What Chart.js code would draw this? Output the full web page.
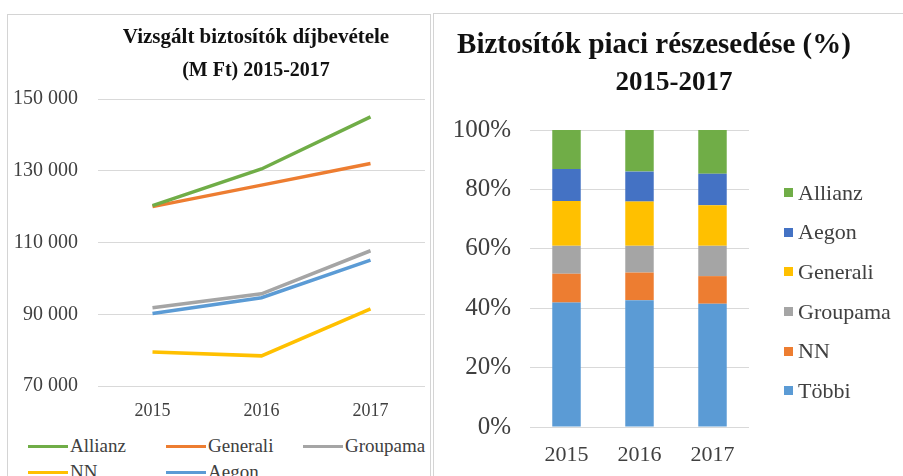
<!DOCTYPE html>
<html>
<head>
<meta charset="utf-8">
<script src="https://cdn.jsdelivr.net/npm/chart.js@4.4.1/dist/chart.umd.min.js"></script>
<style>
  body { margin: 0; background: #fff; width: 903px; height: 476px; overflow: hidden; position: relative; font-family: 'Liberation Serif', 'Times New Roman', serif; }
  .panel { position: absolute; background: #fff; border: 1px solid #d4d4d4; box-sizing: border-box; }
  #left-panel { left: 7px; top: 14px; width: 424px; height: 480px; }
  #right-panel { left: 433px; top: 13px; width: 480px; height: 480px; }
  canvas { position: absolute; left: 0; top: 0; }
  .legend-left { position: absolute; left: 20px; top: 420px; width: 410px; display: grid; grid-template-columns: 138px 137px 130px; row-gap: 4px; }
  .legend-left .item, .legend-right .item { display: flex; align-items: center; color: #404040; white-space: nowrap; }
  .legend-left .item { font-size: 19px; height: 22px; }
  .legend-left .mark { width: 40px; height: 3px; margin-right: 2px; }
  .legend-right { position: absolute; left: 350px; top: 159px; }
  .legend-right .item { font-size: 22px; height: 39.6px; }
  .legend-right .mark { width: 9px; height: 9px; margin-right: 5px; }
</style>
</head>
<body>
<div class="panel" id="left-panel">
  <canvas id="incomeChart"></canvas>
  <div class="legend-left" id="income-legend"></div>
</div>
<div class="panel" id="right-panel">
  <canvas id="shareChart"></canvas>
  <div class="legend-right" id="share-legend"></div>
</div>
<script>
// data
const years = ['2015', '2016', '2017'];

// premium income, M Ft
const allianzIncome = [120300, 130500, 145000];
const generaliIncome = [120000, 126000, 132000];
const groupamaIncome = [91800, 95700, 107700];
const nnIncome = [79500, 78400, 91500];
const aegonIncome = [90200, 94600, 105100];

// market share, %
const tobbiShare = [41.9, 42.7, 41.5];
const nnShare = [9.7, 9.3, 9.3];
const groupamaShare = [9.4, 9.0, 10.2];
const generaliShare = [15.1, 14.9, 13.7];
const aegonShare = [10.8, 10.1, 10.6];
const allianzShare = [13.1, 14.0, 14.7];

const incomeTitle = ['Vizsgált biztosítók díjbevétele', '(M Ft) 2015-2017'];
const shareTitle = ['Biztosítók piaci részesedése (%)', '2015-2017'];

const serif = "'Liberation Serif', 'Times New Roman', serif";
const tickColor = '#404040';
const gridColor = '#d9d9d9';

// title lines drawn at given centres
const panelTitle = {
  id: 'panelTitle',
  afterDraw(chart, args, opts) {
    const ctx = chart.ctx;
    ctx.save();
    ctx.fillStyle = '#111';
    ctx.textAlign = 'center';
    ctx.textBaseline = 'middle';
    opts.lines.forEach(function(line, i) {
      ctx.font = 'bold ' + opts.sizes[i] + 'px ' + serif;
      ctx.fillText(line, opts.x[i], opts.y + i * opts.lineHeight);
    });
    ctx.restore();
  }
};

function formatThousands(v) {
  return String(v).replace(/\B(?=(\d{3})+(?!\d))/g, ' ');
}

function sizeCanvas(canvas, w, h) {
  canvas.width = w;
  canvas.height = h;
  canvas.style.width = w + 'px';
  canvas.style.height = h + 'px';
}

const incomeCanvas = document.getElementById('incomeChart');
sizeCanvas(incomeCanvas, 422, 411);

const incomeChart = new Chart(incomeCanvas, {
  type: 'line',
  data: {
    labels: years,
    datasets: [
      { label: 'Allianz', data: allianzIncome, borderColor: '#70ad47', backgroundColor: '#70ad47' },
      { label: 'Generali', data: generaliIncome, borderColor: '#ed7d31', backgroundColor: '#ed7d31' },
      { label: 'Groupama', data: groupamaIncome, borderColor: '#a5a5a5', backgroundColor: '#a5a5a5' },
      { label: 'NN', data: nnIncome, borderColor: '#ffc000', backgroundColor: '#ffc000' },
      { label: 'Aegon', data: aegonIncome, borderColor: '#5b9bd5', backgroundColor: '#5b9bd5' }
    ]
  },
  options: {
    responsive: false,
    animation: false,
    elements: {
      line: { borderWidth: 3.5, tension: 0 },
      point: { radius: 0 }
    },
    layout: { padding: { left: 0, right: 5, top: 84, bottom: 0 } },
    scales: {
      x: {
        offset: true,
        grid: { display: false },
        border: { display: false },
        ticks: { color: tickColor, padding: 6, font: { family: serif, size: 18 } },
        afterFit: function(scale) { scale.height = 40; }
      },
      y: {
        min: 70000,
        max: 150000,
        grid: { color: gridColor, drawTicks: false },
        border: { display: false },
        ticks: {
          stepSize: 20000,
          color: tickColor,
          padding: 20,
          font: { family: serif, size: 20 },
          callback: function(v) { return formatThousands(v); }
        },
        afterFit: function(scale) { scale.width = 90; }
      }
    },
    plugins: {
      legend: { display: false },
      tooltip: { enabled: false },
      panelTitle: { lines: incomeTitle, sizes: [21, 20], x: [248, 248], y: 23, lineHeight: 33 }
    }
  },
  plugins: [panelTitle]
});

const shareCanvas = document.getElementById('shareChart');
sizeCanvas(shareCanvas, 470, 453);

const shareChart = new Chart(shareCanvas, {
  type: 'bar',
  data: {
    labels: years,
    datasets: [
      { label: 'Többi', data: tobbiShare, backgroundColor: '#5b9bd5' },
      { label: 'NN', data: nnShare, backgroundColor: '#ed7d31' },
      { label: 'Groupama', data: groupamaShare, backgroundColor: '#a5a5a5' },
      { label: 'Generali', data: generaliShare, backgroundColor: '#ffc000' },
      { label: 'Aegon', data: aegonShare, backgroundColor: '#4472c4' },
      { label: 'Allianz', data: allianzShare, backgroundColor: '#70ad47' }
    ]
  },
  options: {
    responsive: false,
    animation: false,
    datasets: { bar: { categoryPercentage: 1, barPercentage: 0.39 } },
    layout: { padding: { left: 0, right: 155, top: 116, bottom: 0 } },
    scales: {
      x: {
        stacked: true,
        grid: { display: false },
        border: { display: false },
        ticks: { color: tickColor, padding: 7, font: { family: serif, size: 22 } },
        afterFit: function(scale) { scale.height = 40; }
      },
      y: {
        stacked: true,
        min: 0,
        max: 100,
        grid: { color: gridColor, drawTicks: false },
        border: { display: false },
        ticks: {
          stepSize: 20,
          color: tickColor,
          padding: 19,
          font: { family: serif, size: 25 },
          callback: function(v) { return v + '%'; }
        },
        afterFit: function(scale) { scale.width = 96; }
      }
    },
    plugins: {
      legend: { display: false },
      tooltip: { enabled: false },
      panelTitle: { lines: shareTitle, sizes: [29, 27], x: [220, 240], y: 32, lineHeight: 37 }
    }
  },
  plugins: [panelTitle]
});

// html legends built from the chart datasets
function buildLegend(chart, elId, reverse) {
  const box = document.getElementById(elId);
  let sets = chart.data.datasets.slice();
  if (reverse) sets.reverse();
  sets.forEach(function(ds) {
    const item = document.createElement('div');
    item.className = 'item';
    const mark = document.createElement('span');
    mark.className = 'mark';
    mark.style.background = ds.borderColor || ds.backgroundColor;
    item.appendChild(mark);
    item.appendChild(document.createTextNode(ds.label));
    box.appendChild(item);
  });
}

buildLegend(incomeChart, 'income-legend', false);
buildLegend(shareChart, 'share-legend', true);
</script>
</body>
</html>
